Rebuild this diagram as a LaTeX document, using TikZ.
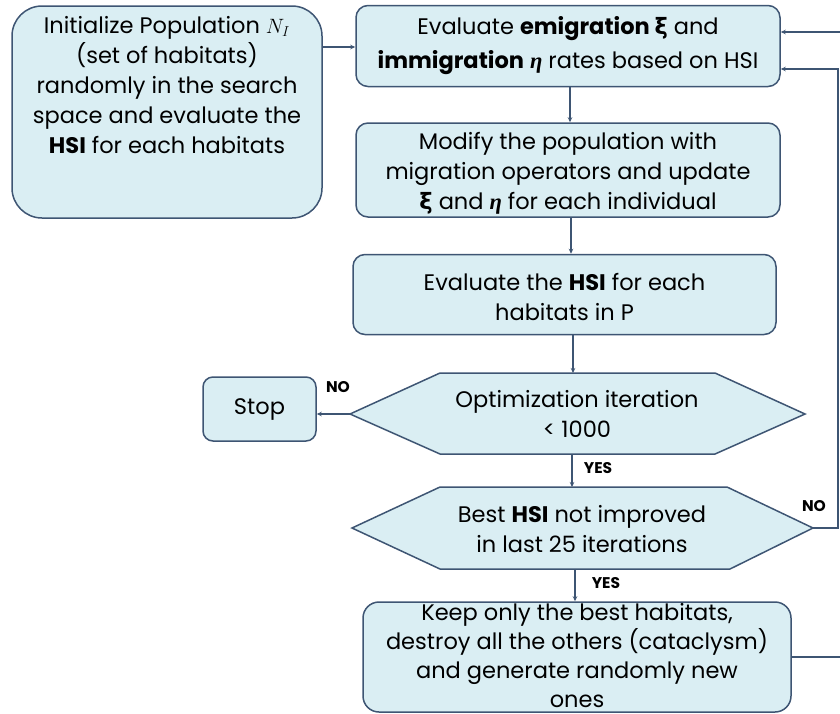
\documentclass[tikz,border=0pt]{standalone}
\usepackage{amsmath}
\usepackage{fontspec}
\setmainfont{Poppins}
\newfontfamily\grk{DejaVu Sans}
\newfontfamily\grks{Liberation Serif}
\usetikzlibrary{arrows.meta,calc}
\definecolor{boxfill}{HTML}{DAEEF3}
\definecolor{boxline}{HTML}{3E5573}
\newcommand{\xib}{{\grk\bfseries ξ}}
\newcommand{\etab}{{\grks\bfseries\itshape η}}
\tikzset{
  box/.style={draw=boxline, fill=boxfill, line width=1.5pt, rounded corners=12pt, inner sep=0pt},
  txt/.style={font=\fontsize{22.5}{30}\selectfont, align=center, inner sep=0pt, text=black},
  lbl/.style={font=\fontsize{15.5}{17}\selectfont\bfseries, inner sep=0pt, text=black},
  arr/.style={draw=boxline, line width=1.3pt, -{Stealth[length=5pt,width=4.5pt]}},
  hexa/.style={draw=boxline, fill=boxfill, line width=1.5pt, line join=miter}
}
\begin{document}
\begin{tikzpicture}[x=1pt,y=-1pt]
\useasboundingbox (0,0) rectangle (840,713);

% Box A
\node[box, rounded corners=30pt, minimum width=310pt, minimum height=212pt] (init) at (167,112) {};
\node[txt] (initT) at (167,85) {Initialize Population $N_I$\\(set of habitats)\\randomly in the search\\space and evaluate the\\\textbf{HSI} for each habitats};

% Box B
\node[box, minimum width=424pt, minimum height=81pt, txt, font=\fontsize{22.5}{34}\selectfont] (evalB) at (568,46)
  {Evaluate \textbf{emigration \xib} and\\\textbf{immigration} \etab{} rates based on HSI};

% Box C
\node[box, minimum width=424pt, minimum height=94pt] (modify) at (568,170) {};
\node[txt] (modifyT) at (568,173)
  {Modify the population with\\migration operators and update\\\xib{} and \etab{} for each individual};

% Box D
\node[box, minimum width=423pt, minimum height=80pt] (evalD) at (564.5,294.5) {};
\node[txt] (evalDT) at (564.5,297)
  {Evaluate the \textbf{HSI} for each\\habitats in P};

% Stop
\node[box, rounded corners=10pt, minimum width=113pt, minimum height=64pt, txt] (stop) at (259.5,409) {Stop};

% Hexagon 1
\coordinate (h1w) at (350,414);
\coordinate (h1e) at (805,414);
\draw[hexa] (h1w) -- (440,373) -- (715,373) -- (h1e) -- (715,454) -- (440,454) -- cycle;
\node[txt] (opt) at (577,414) {Optimization iteration\\{<} 1000};
\coordinate (h1n) at (573,373);
\coordinate (h1s) at (572,454);

% Hexagon 2
\coordinate (h2w) at (352,528);
\coordinate (h2e) at (813,528);
\draw[hexa] (h2w) -- (440,487) -- (727,487) -- (h2e) -- (730,569) -- (440,569) -- cycle;
\node[txt] (best) at (582,529) {Best \textbf{HSI} not improved\\in last 25 iterations};
\coordinate (h2s) at (575,569);

% Box E
\node[box, rounded corners=16pt, minimum width=428pt, minimum height=110pt] (keep) at (577,657) {};
\node[txt, font=\fontsize{22.5}{29}\selectfont] (keepT) at (577,656)
  {Keep only the best habitats,\\destroy all the others (cataclysm)\\and generate randomly new\\ones};

% Connectors
\coordinate (a1) at (322,47);
\draw[arr] (a1) -- (a1 -| evalB.west);
\draw[arr] (evalB.south -| 570,0) -- (modify.north -| 570,0);
\draw[arr] (modify.south -| 571,0) -- (evalD.north -| 571,0);
\draw[arr] (evalD.south -| h1n) -- (h1n);
\draw[arr] (h1s) -- (h1s |- 0,487);
\draw[arr] (h2s) -- (h2s |- keep.north);
\draw[arr] (h1w) -- (stop.east |- h1w);

\coordinate (r1) at (838,528);
\coordinate (r1t) at (838,69);
\draw[arr] (h2e) -- (r1) -- (r1t) -- (r1t -| evalB.east);

\coordinate (r2) at (846,657);
\coordinate (r2t) at (846,32);
\draw[arr] (keep.east |- r2) -- (r2) -- (r2t) -- (r2t -| evalB.east);

% Labels
\node[lbl] (no1) at (338,387) {NO};
\node[lbl] (no2) at (814,506) {NO};
\node[lbl] (yes1) at (598,468) {YES};
\node[lbl] (yes2) at (606,583) {YES};
\end{tikzpicture}
\end{document}
